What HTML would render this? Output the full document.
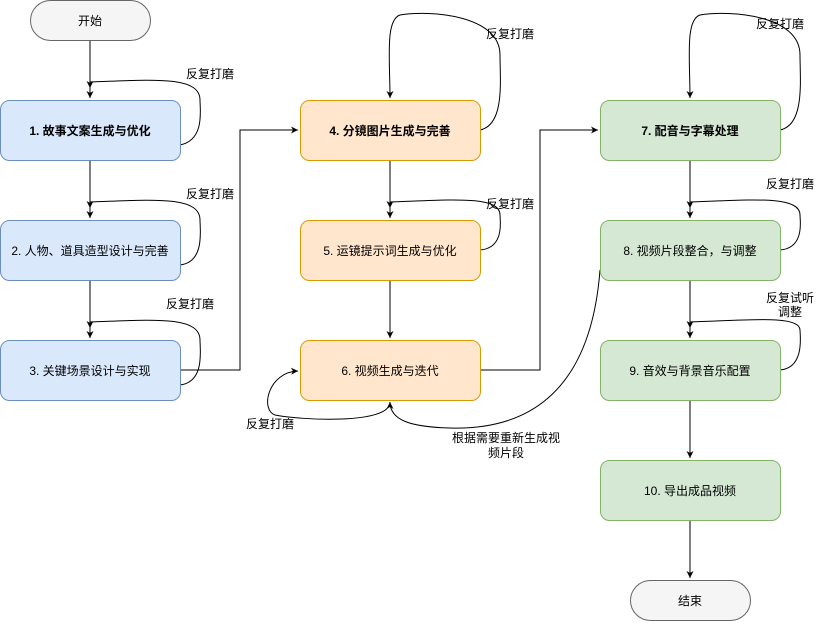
<!DOCTYPE html>
<html><head><meta charset="utf-8"><style>
body{margin:0;background:#fff;}
svg text{font-family:"Liberation Sans","Noto Sans CJK SC",sans-serif;font-size:12px;fill:#000;}
</style></head><body>
<svg width="821" height="621" viewBox="0 0 821 621" xmlns="http://www.w3.org/2000/svg">
<defs><marker id="a" markerWidth="8" markerHeight="8" refX="7" refY="4" orient="auto" markerUnits="userSpaceOnUse"><path d="M0,0.5 L7,4 L0,7.5 L2,4 Z" fill="#000"/></marker></defs>
<g fill="none" stroke="#000" stroke-width="1">
<path d="M90,40 V98" marker-end="url(#a)"/>
<path d="M180,145 C205,140 200,110 200,100 C200,75 150,80 90,82 V88" marker-end="url(#a)"/>
<path d="M90,160 V218" marker-end="url(#a)"/>
<path d="M180,265 C205,262 200,230 200,220 C200,195 150,200 90,202 V208" marker-end="url(#a)"/>
<path d="M90,280 V338" marker-end="url(#a)"/>
<path d="M180,385 C205,382 200,350 200,340 C200,315 150,320 90,322 V328" marker-end="url(#a)"/>
<path d="M180,370 H240 V130 H298" marker-end="url(#a)"/>
<path d="M480,130 C505,125 500,80 500,55 C500,15 430,10 400,15 C385,20 390,60 390,98" marker-end="url(#a)"/>
<path d="M390,160 V218" marker-end="url(#a)"/>
<path d="M480,250 C505,248 500,220 500,215 C500,195 450,200 390,202 V208" marker-end="url(#a)"/>
<path d="M390,280 V338" marker-end="url(#a)"/>
<path d="M390,402 C390,425 300,420 275,415 C260,410 268,372 298,371" marker-end="url(#a)"/>
<path d="M600,270 C590,400 520,430 450,428 C410,427 390,420 390,402" marker-end="url(#a)"/>
<path d="M480,370 H540 V130 H598" marker-end="url(#a)"/>
<path d="M780,130 C805,125 800,80 800,55 C800,15 730,10 700,15 C685,20 690,60 690,98" marker-end="url(#a)"/>
<path d="M690,160 V218" marker-end="url(#a)"/>
<path d="M780,250 C805,248 800,220 800,215 C800,195 750,200 690,202 V208" marker-end="url(#a)"/>
<path d="M690,280 V338" marker-end="url(#a)"/>
<path d="M780,370 C805,368 800,335 800,330 C800,315 750,320 690,322 V328" marker-end="url(#a)"/>
<path d="M690,400 V458" marker-end="url(#a)"/>
<path d="M690,520 V578" marker-end="url(#a)"/>
</g>
<rect x="30.5" y="0.5" width="120" height="40" rx="20" fill="#f5f5f5" stroke="#666"/>
<rect x="630.5" y="580.5" width="120" height="40" rx="20" fill="#f5f5f5" stroke="#666"/>
<g stroke="#6c8ebf" fill="#dae8fc">
<rect x="0.5" y="100.5" width="180" height="60" rx="9"/>
<rect x="0.5" y="220.5" width="180" height="60" rx="9"/>
<rect x="0.5" y="340.5" width="180" height="60" rx="9"/>
</g>
<g stroke="#d79b00" fill="#ffe6cc">
<rect x="300.5" y="100.5" width="180" height="60" rx="9"/>
<rect x="300.5" y="220.5" width="180" height="60" rx="9"/>
<rect x="300.5" y="340.5" width="180" height="60" rx="9"/>
</g>
<g stroke="#82b366" fill="#d5e8d4">
<rect x="600.5" y="100.5" width="180" height="60" rx="9"/>
<rect x="600.5" y="220.5" width="180" height="60" rx="9"/>
<rect x="600.5" y="340.5" width="180" height="60" rx="9"/>
<rect x="600.5" y="460.5" width="180" height="60" rx="9"/>
</g>
<g text-anchor="middle">
<text x="90" y="25">开始</text>
<text x="690" y="605">结束</text>
<text x="90" y="135" font-weight="bold">1. 故事文案生成与优化</text>
<text x="90" y="255">2. 人物、道具造型设计与完善</text>
<text x="90" y="375">3. 关键场景设计与实现</text>
<text x="390" y="135" font-weight="bold">4. 分镜图片生成与完善</text>
<text x="390" y="255">5. 运镜提示词生成与优化</text>
<text x="390" y="375">6. 视频生成与迭代</text>
<text x="690" y="135" font-weight="bold">7. 配音与字幕处理</text>
<text x="690" y="255">8. 视频片段整合，与调整</text>
<text x="690" y="375">9. 音效与背景音乐配置</text>
<text x="690" y="495">10. 导出成品视频</text>
<text x="210" y="78">反复打磨</text>
<text x="210" y="198">反复打磨</text>
<text x="190" y="308">反复打磨</text>
<text x="510" y="38">反复打磨</text>
<text x="510" y="208">反复打磨</text>
<text x="270" y="428">反复打磨</text>
<text x="780" y="28">反复打磨</text>
<text x="790" y="188">反复打磨</text>
<text x="790" y="302">反复试听</text>
<text x="790" y="316">调整</text>
<text x="506" y="442">根据需要重新生成视</text>
<text x="506" y="457">频片段</text>
</g>
</svg>
</body></html>
